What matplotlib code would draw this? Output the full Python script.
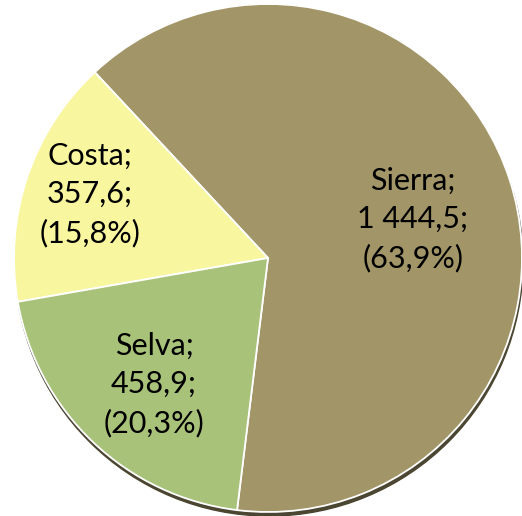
import numpy as np
import matplotlib.pyplot as plt
from matplotlib.patches import Circle

# Data
regions = ["Sierra", "Costa", "Selva"]
values = [1444.5, 357.6, 458.9]
percents = ["63,9%", "15,8%", "20,3%"]
value_labels = ["1 444,5", "357,6", "458,9"]
colors = ["#a29567", "#f9f6a0", "#a9c27a"]
label_dist = [0.59, 0.745, 0.67]
label_turn = [-3.0, -1.0, 1.5]  # degrees off the wedge middle

W, H = 522, 516
cx, cy, r = 268, 258, 254  # pie centre and radius in pixels

fig = plt.figure(figsize=(W / 100, H / 100), dpi=100)
ax = fig.add_axes([0, 0, 1, 1])

# dark rim shadow under the pie
ax.add_patch(Circle((0.004, -0.016), 1.0, color="#4b4631", zorder=0))

wedges, _ = ax.pie(values, colors=colors, startangle=-97, counterclock=True,
                   wedgeprops=dict(edgecolor="white", linewidth=1.3))
for w in wedges:
    w.set_zorder(1)

for w, name, val, pct, d, t in zip(wedges, regions, value_labels, percents,
                                   label_dist, label_turn):
    ang = np.deg2rad((w.theta1 + w.theta2) / 2 + t)
    ax.text(d * np.cos(ang), d * np.sin(ang), f"{name};\n{val};\n({pct})",
            ha="center", va="center", fontsize=22, family="Lato",
            linespacing=1.45, zorder=3)

ax.set_xlim(-cx / r, (W - cx) / r)
ax.set_ylim(-(H - cy) / r, cy / r)
ax.set_aspect("auto")
ax.axis("off")

fig.savefig("out.png", dpi=100)
